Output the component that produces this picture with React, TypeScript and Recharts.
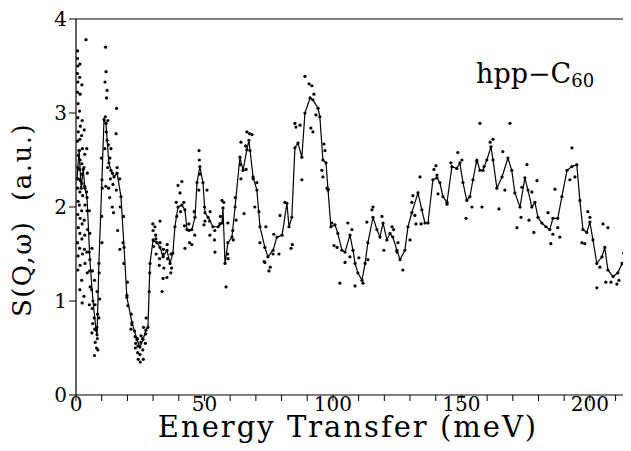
import React from "react";
import { ComposedChart, Line, Scatter, XAxis, YAxis, ReferenceLine } from "recharts";

const xTicks = [0, 10, 20, 30, 40, 50, 60, 70, 80, 90, 100, 110, 120, 130, 140, 150, 160, 170, 180, 190, 200, 210];
const yTicks = [0, 1, 2, 3, 4];

// smoothed curve (energy meV, S(Q,w))
const curvePoints: [number, number][] = [
  [0.4, 2.3], [1.2, 2.6], [2.0, 2.2], [2.8, 2.4], [3.5, 2.2], [4.3, 2.1], [5.4, 1.44], [6.6, 1.0], [7.8, 0.69], [8.2, 0.64],
  [8.9, 1.4], [10.1, 2.29], [10.9, 2.93], [11.7, 2.89], [12.1, 2.71], [12.8, 2.47], [13.6, 2.39], [14.8, 2.32], [16.0, 2.36],
  [17.5, 2.11], [18.7, 1.57], [19.8, 1.04], [21.8, 0.77], [23.7, 0.59], [24.9, 0.51], [26.1, 0.59], [27.2, 0.69], [28.0, 0.72],
  [28.8, 1.4], [30.0, 1.65], [31.5, 1.62], [32.7, 1.57], [33.9, 1.47], [35.4, 1.54], [36.6, 1.4], [37.7, 1.51], [38.5, 1.79],
  [39.7, 2.0], [41.2, 2.02], [42.4, 1.97], [43.2, 1.76], [45.1, 1.76], [46.3, 1.89], [47.1, 2.26], [48.2, 2.43], [49.4, 2.26],
  [50.2, 1.94], [51.4, 1.89], [53.3, 1.79], [55.3, 1.79], [56.8, 1.83], [57.2, 1.99], [58.0, 1.4], [59.1, 1.62], [60.7, 1.68],
  [61.9, 2.0], [63.8, 2.53], [65.0, 2.39], [66.5, 2.61], [67.3, 2.71], [68.9, 2.32], [70.4, 2.18], [71.6, 1.79], [73.5, 1.57],
  [74.7, 1.47], [76.7, 1.54], [78.2, 1.68], [80.2, 1.7], [82.1, 2.04], [82.9, 1.79], [84.0, 1.89], [85.2, 2.63], [86.4, 2.68],
  [87.9, 2.53], [89.1, 3.0], [91.1, 3.16], [92.2, 3.14], [94.2, 3.05], [94.9, 2.96], [96.1, 2.5], [97.3, 2.47], [98.1, 2.18],
  [99.2, 1.79], [100.8, 1.81], [101.9, 1.72], [103.5, 1.54], [104.7, 1.52], [106.6, 1.7], [107.8, 1.54], [108.6, 1.4],
  [109.7, 1.3], [111.3, 1.22], [112.5, 1.4], [113.6, 1.62], [115.6, 1.89], [117.1, 1.76], [118.3, 1.68], [119.5, 1.83],
  [121.0, 1.65], [122.2, 1.72], [123.3, 1.68], [124.9, 1.54], [126.1, 1.44], [128.0, 1.54], [129.2, 1.79], [130.7, 1.94],
  [133.1, 2.15], [134.6, 1.97], [135.8, 1.83], [137.0, 1.83], [138.9, 2.29], [140.5, 2.31], [141.6, 2.26], [142.8, 2.11],
  [144.4, 2.05], [146.3, 2.43], [148.2, 2.41], [149.4, 2.47], [150.6, 2.26], [152.1, 2.07], [153.3, 2.11], [154.5, 2.29],
  [156.0, 2.5], [157.2, 2.39], [158.4, 2.39], [159.9, 2.5], [161.5, 2.64], [162.3, 2.5], [163.8, 2.2], [165.8, 2.32],
  [168.1, 2.52], [169.6, 2.39], [170.8, 2.15], [172.8, 2.0], [174.7, 2.31], [175.9, 2.18], [177.4, 2.0], [178.6, 2.05],
  [179.8, 1.89], [181.3, 1.83], [182.9, 1.79], [184.4, 1.76], [185.6, 1.88], [187.5, 1.88], [189.1, 2.11], [191.1, 2.39],
  [193.0, 2.43], [194.9, 2.45], [196.1, 2.07], [197.3, 1.76], [198.8, 1.73], [200.0, 1.84], [201.2, 1.65], [202.7, 1.4],
  [204.7, 1.47], [205.8, 1.57], [207.0, 1.33], [209.0, 1.26], [210.9, 1.3], [212.5, 1.4], [214.4, 1.33], [215.6, 1.19],
];

// measured points
const measuredPoints: [number, number][] = [
  [0.6, 3.66], [0.6, 3.58], [0.7, 3.5], [0.6, 3.42], [0.7, 3.33], [0.6, 3.22], [0.8, 3.1], [0.7, 2.95], [0.9, 2.8], [0.6, 2.7],
  [0.8, 2.55], [0.7, 2.42], [0.9, 2.3], [0.6, 2.2], [0.8, 2.06], [0.7, 1.92], [0.9, 1.78], [0.6, 1.62], [0.8, 1.48], [0.7, 1.33],
  [1.5, 3.52], [1.4, 3.38], [1.6, 3.2], [1.4, 3.02], [1.7, 2.86], [1.5, 2.72], [1.3, 2.6], [1.6, 2.5], [1.4, 2.4], [1.7, 2.28],
  [1.5, 2.16], [1.3, 2.02], [1.6, 1.88], [1.5, 1.72], [1.4, 1.56], [1.6, 1.38], [1.5, 1.12],
  [2.3, 3.3], [2.4, 2.92], [2.2, 2.76], [2.5, 2.62], [2.3, 2.46], [2.1, 2.35], [2.4, 2.25], [2.6, 2.12], [2.2, 1.96], [2.4, 1.82],
  [2.3, 1.66], [2.5, 1.5], [2.2, 1.22], [2.4, 0.98],
  [3.9, 3.78], [3.2, 2.82], [3.4, 2.56], [3.1, 2.42], [3.3, 2.22], [3.5, 2.02], [3.2, 1.86], [3.4, 1.7], [3.3, 1.55], [3.5, 1.4], [3.1, 1.05],
  [4.2, 2.62], [4.4, 2.36], [4.1, 2.16], [4.3, 1.96], [4.5, 1.76], [4.2, 1.52], [4.4, 1.3],
  [5.2, 1.96], [5.4, 1.72], [5.1, 1.52], [5.3, 1.32], [5.5, 1.15], [5.2, 0.96],
  [6.2, 1.56], [6.4, 1.32], [6.1, 1.12], [6.3, 0.92], [6.5, 0.76], [6.2, 0.66],
  [7.2, 1.22], [7.4, 0.96], [7.1, 0.82], [7.3, 0.7], [7.5, 0.56], [7.2, 0.42],
  [8.2, 1.1], [8.4, 0.86], [8.1, 0.72], [8.3, 0.6], [8.5, 0.48], [8.0, 0.5],
  [9.0, 1.3], [9.2, 1.02], [8.9, 0.82],
  [10.0, 1.9], [10.2, 2.2], [9.9, 2.52], [10.1, 1.62],
  [11.5, 3.7], [11.7, 3.44], [11.3, 3.33], [12.1, 3.24], [11.9, 3.16], [11.4, 2.96], [11.8, 2.8], [11.2, 2.62], [11.6, 2.22],
  [12.4, 2.92], [12.6, 2.66], [12.3, 2.42], [12.7, 2.2],
  [13.2, 2.52], [13.4, 2.3], [13.1, 2.1], [13.6, 2.62],
  [14.2, 2.36], [14.4, 2.24], [14.1, 2.0], [14.6, 1.94],
  [15.8, 3.05], [15.6, 2.78], [16.0, 2.42], [15.7, 2.18], [16.2, 1.75],
  [17.0, 2.3], [17.2, 2.0], [17.1, 1.55],
  [18.5, 1.9], [18.6, 1.4], [18.3, 1.62],
  [20.0, 1.2], [20.2, 0.95], [19.8, 1.06],
  [21.5, 0.86], [21.7, 0.75], [21.4, 0.7],
  [23.0, 0.62], [23.2, 0.55], [22.8, 0.68], [23.1, 0.5],
  [24.0, 0.45], [24.2, 0.38], [23.9, 0.6], [24.1, 0.52],
  [25.0, 0.35], [25.2, 0.56], [24.9, 0.43], [25.3, 0.63],
  [26.0, 0.48], [26.2, 0.38], [25.9, 0.6], [26.3, 0.72],
  [27.0, 0.55], [27.3, 0.82], [27.1, 0.65],
  [28.5, 1.1], [28.7, 1.3],
  [30.0, 1.75], [30.2, 1.58], [29.9, 1.82],
  [31.0, 1.7], [31.2, 1.5], [31.1, 1.66],
  [32.5, 1.45], [32.7, 1.62], [32.4, 1.38], [32.7, 1.85], [30.7, 1.79],
  [34.0, 1.55], [34.2, 1.35], [33.9, 1.5], [33.5, 1.1], [33.9, 1.24],
  [35.5, 1.6], [35.7, 1.45], [35.4, 1.25],
  [37.0, 1.5], [37.2, 1.35], [36.9, 1.3],
  [39.0, 2.05], [39.2, 1.9], [39.7, 2.23],
  [40.5, 2.15], [41.2, 2.27], [40.7, 1.95],
  [42.0, 2.05], [42.2, 1.8], [42.4, 1.56],
  [44.0, 1.75], [44.2, 1.62], [43.9, 1.82], [45.1, 1.6],
  [46.0, 1.95], [46.2, 1.7],
  [47.9, 2.6], [48.0, 2.5], [48.2, 2.35], [47.8, 2.18],
  [49.8, 1.81], [50.0, 2.0], [50.2, 1.85], [51.0, 2.18],
  [52.0, 1.85], [52.2, 1.95], [52.1, 1.7],
  [54.0, 1.75], [54.1, 1.52], [53.9, 1.65],
  [56.0, 1.82], [56.2, 1.9], [56.8, 2.07],
  [57.5, 2.05], [58.4, 1.15],
  [59.0, 1.5], [59.1, 1.83], [59.2, 1.45],
  [61.0, 1.75], [61.2, 1.65], [62.3, 1.86], [62.0, 2.1],
  [64.2, 2.69], [64.0, 2.45], [64.2, 2.3],
  [65.4, 1.93], [66.0, 2.65], [66.5, 2.8], [66.2, 2.4],
  [67.5, 2.78], [68.5, 2.77], [67.7, 2.6],
  [69.0, 2.3], [69.6, 2.0], [70.4, 2.26],
  [71.6, 1.62], [71.2, 1.95],
  [73.2, 1.42], [73.5, 1.41], [73.9, 1.79],
  [75.1, 1.32], [75.6, 1.36], [76.7, 1.5],
  [77.0, 1.71], [79.0, 1.5], [79.4, 1.91],
  [81.3, 2.05], [83.7, 1.56], [84.2, 1.6],
  [85.2, 2.89], [85.6, 2.85], [87.2, 2.87],
  [87.9, 2.29], [89.1, 3.39], [90.7, 3.31],
  [91.8, 3.29], [92.6, 3.2], [91.4, 2.84], [92.2, 2.8],
  [93.4, 2.98], [96.5, 2.67], [96.9, 2.6],
  [95.7, 2.39], [96.1, 2.32], [97.7, 2.2], [98.1, 2.19],
  [99.6, 1.83], [100.4, 1.59], [101.6, 1.57],
  [102.7, 1.19], [104.7, 1.41],
  [105.8, 1.83], [107.4, 1.76], [106.6, 1.47],
  [108.6, 1.16], [110.1, 1.46], [111.7, 1.19],
  [113.2, 1.84], [113.6, 1.44], [115.6, 2.0], [115.2, 1.97],
  [119.1, 1.9], [119.8, 1.54], [123.0, 1.79], [123.6, 1.76],
  [124.9, 1.52], [125.3, 1.62], [127.2, 1.33],
  [130.0, 1.65], [130.7, 2.05], [131.1, 2.12], [131.9, 1.91], [132.3, 1.82],
  [133.9, 2.32], [134.3, 1.82],
  [139.3, 2.4], [140.1, 2.44], [140.9, 2.14], [140.5, 2.34],
  [144.4, 2.03], [145.9, 2.47], [148.6, 2.58],
  [150.2, 2.5], [151.8, 1.88], [154.1, 2.0],
  [156.0, 2.48], [157.2, 2.89], [158.0, 2.0], [158.8, 2.43],
  [162.3, 2.72], [161.2, 2.69], [164.6, 1.98],
  [166.1, 2.59], [166.9, 2.18], [168.9, 2.89],
  [171.6, 1.78], [173.5, 2.21], [173.2, 1.89],
  [175.5, 2.45], [176.3, 1.86], [177.4, 2.16],
  [178.2, 1.73], [179.4, 2.28], [183.7, 1.94],
  [184.8, 1.61], [185.6, 1.71], [186.4, 2.19],
  [187.5, 1.78], [188.3, 1.68], [192.2, 2.29],
  [193.0, 2.63], [194.2, 2.32], [196.9, 1.62], [198.0, 1.61],
  [199.2, 1.95], [200.0, 1.89], [202.7, 1.14],
  [203.9, 1.36], [205.1, 1.82], [206.2, 1.2],
  [207.0, 1.78], [208.2, 1.2], [210.5, 1.18],
  [211.3, 1.22], [213.2, 1.51], [214.8, 1.24],
];

const curveData = curvePoints.map(([x, y]) => ({ x, y }));
const pointData = measuredPoints.map(([x, y]) => ({ x, y }));

const FONT = "'DejaVu Serif', 'Liberation Serif', serif";

const Dot = (props: any) => {
  const { cx, cy } = props;
  if (cx == null || cy == null) return null;
  return <circle cx={cx} cy={cy} r={1.6} fill="#000" />;
};

export default function App() {
  return (
    <div style={{ position: "relative", width: 623, height: 443 }}>
      <ComposedChart
        width={623}
        height={443}
        margin={{ top: 11, right: 0, bottom: 0, left: 0 }}
      >
        <XAxis
          type="number"
          dataKey="x"
          domain={[0, 216]}
          ticks={xTicks}
          interval={0}
          allowDataOverflow
          tickFormatter={(v: number) => (v % 50 === 0 ? String(v) : "")}
          tickSize={6}
          tickMargin={0}
          height={56}
          axisLine={{ stroke: "#000", strokeWidth: 1.2 }}
          tickLine={{ stroke: "#000", strokeWidth: 1 }}
          tick={{ fill: "#000", fontSize: 20, fontFamily: FONT, dy: -4 }}
        />
        <YAxis
          type="number"
          dataKey="y"
          domain={[0, 4]}
          ticks={yTicks}
          interval={0}
          allowDataOverflow
          width={68}
          tickSize={7}
          axisLine={{ stroke: "#000", strokeWidth: 1.2 }}
          tickLine={{ stroke: "#000", strokeWidth: 1 }}
          tick={{ fill: "#000", fontSize: 20, fontFamily: FONT }}
        />
        <ReferenceLine y={4} stroke="#000" strokeWidth={1.2} />
        <Line
          data={curveData}
          dataKey="y"
          type="linear"
          stroke="#000"
          strokeWidth={1.2}
          dot={<Dot />}
          activeDot={false}
          isAnimationActive={false}
        />
        <Scatter
          data={pointData}
          dataKey="y"
          fill="#000"
          shape={<Dot />}
          isAnimationActive={false}
        />
      </ComposedChart>
      <div
        style={{
          position: "absolute",
          left: 140,
          top: 404,
          width: 400,
          textAlign: "center",
          fontFamily: FONT,
          fontSize: 29,
          letterSpacing: 2,
          color: "#000",
          whiteSpace: "nowrap",
          lineHeight: "30px",
        }}
      >
        Energy Transfer (meV)
      </div>
      <div
        style={{
          position: "absolute",
          left: 14 - 150,
          top: 212 - 18,
          width: 300,
          height: 36,
          textAlign: "center",
          fontFamily: FONT,
          fontSize: 26,
          letterSpacing: 1.5,
          color: "#000",
          whiteSpace: "pre",
          lineHeight: "36px",
          transform: "rotate(-90deg)",
        }}
      >
        {"S(Q,ω)  (a.u.)"}
      </div>
      <div
        style={{
          position: "absolute",
          left: 468,
          top: 50,
          fontFamily: FONT,
          fontSize: 27,
          color: "#000",
          whiteSpace: "nowrap",
          lineHeight: "32px",
        }}
      >
        hpp−C<span style={{ fontSize: 18, position: "relative", top: 4 }}>60</span>
      </div>
    </div>
  );
}
